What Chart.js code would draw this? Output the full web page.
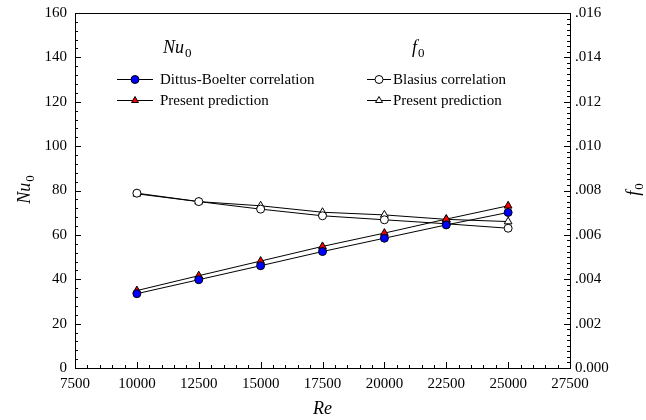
<!DOCTYPE html>
<html>
<head>
<meta charset="utf-8">
<script src="https://cdn.jsdelivr.net/npm/chart.js@4.4.1/dist/chart.umd.min.js"></script>
<style>
  html, body { margin: 0; padding: 0; background: #fff; }
  #chart { display: block; }
</style>
</head>
<body>
<canvas id="chart" width="646" height="420"></canvas>
<script>
// Nu0 e f0 em função de Re
const RE = [10000, 12500, 15000, 17500, 20000, 22500, 25000];
const NU_DITTUS = [33.5, 39.8, 46.1, 52.5, 58.5, 64.5, 70.1];
const NU_PRESENT = [34.9, 41.6, 48.2, 54.8, 60.8, 67.1, 73.1];
const F_BLASIUS = [0.00788, 0.0075, 0.00716, 0.00686, 0.00668, 0.0065, 0.0063];
const F_PRESENT = [0.00785, 0.0075, 0.00731, 0.00702, 0.0069, 0.0067, 0.0066];

const X_RANGE = [7500, 27500];
const NU_RANGE = [0, 160];
const F_RANGE = [0, 0.016];

const FONT = "'Liberation Serif', 'Times New Roman', serif";

const pts = (ys) => RE.map((x, i) => ({ x, y: ys[i] }));

// ---- eixos: ticks para dentro, linha superior, títulos e legenda ----
const framePlugin = {
  id: "frame",
  afterDraw(chart) {
    const ctx = chart.ctx;
    const a = chart.chartArea;
    const sx = chart.scales.x, sy = chart.scales.y, sf = chart.scales.y2;
    ctx.save();
    ctx.strokeStyle = "#000";
    ctx.lineWidth = 1;

    // linha superior
    ctx.beginPath();
    ctx.moveTo(a.left, a.top + 0.5);
    ctx.lineTo(a.right, a.top + 0.5);
    ctx.stroke();

    ctx.beginPath();
    // eixo x: menor a cada 500, maior a cada 2500
    for (let i = 0; i <= 40; i++) {
      const px = Math.round(sx.getPixelForValue(X_RANGE[0] + i * 500)) + 0.5;
      const len = i % 5 === 0 ? 6 : 3;
      ctx.moveTo(px, a.bottom);
      ctx.lineTo(px, a.bottom - len);
    }
    // eixo Nu: menor a cada 4
    for (let i = 0; i <= 40; i++) {
      const py = Math.round(sy.getPixelForValue(i * 4)) + 0.5;
      const len = i % 5 === 0 ? 6 : 3;
      ctx.moveTo(a.left, py);
      ctx.lineTo(a.left + len, py);
    }
    // eixo f: menor a cada 0.00025
    for (let i = 0; i <= 64; i++) {
      const py = Math.round(sf.getPixelForValue(i * 0.00025)) + 0.5;
      const len = i % 8 === 0 ? 6 : 3;
      ctx.moveTo(a.right, py);
      ctx.lineTo(a.right - len, py);
    }
    ctx.stroke();

    ctx.fillStyle = "#000";
    // título do eixo x
    ctx.font = "italic 18px " + FONT;
    ctx.textAlign = "center";
    ctx.textBaseline = "alphabetic";
    ctx.fillText("Re", (a.left + a.right) / 2, 414);

    // títulos com subscrito
    const sub = (main, x, y, rotate) => {
      ctx.save();
      ctx.translate(x, y);
      if (rotate) ctx.rotate(-Math.PI / 2);
      ctx.font = "italic 18px " + FONT;
      const w1 = ctx.measureText(main).width;
      ctx.font = "13px " + FONT;
      const w2 = ctx.measureText("0").width;
      const x0 = rotate ? -(w1 + w2) / 2 : 0;
      ctx.textAlign = "left";
      ctx.font = "italic 18px " + FONT;
      ctx.fillText(main, x0, rotate ? 6 : 0);
      ctx.font = "13px " + FONT;
      ctx.fillText("0", x0 + w1 + 1, rotate ? 10 : 4);
      ctx.restore();
    };
    sub("Nu", 24, 190, true);
    sub("f", 633, 190, true);

    // legenda
    const ds = chart.data.datasets;
    const entry = (d, x1, x2, y, tx) => {
      ctx.strokeStyle = "#000";
      ctx.lineWidth = 1;
      ctx.beginPath();
      ctx.moveTo(x1, y + 0.5);
      ctx.lineTo(x2, y + 0.5);
      ctx.stroke();
      ctx.fillStyle = d.pointBackgroundColor;
      ctx.strokeStyle = "#000";
      Chart.helpers.drawPoint(ctx, { pointStyle: d.pointStyle, radius: 4, borderWidth: 1, rotation: 0 }, (x1 + x2) / 2, y + 0.5);
      ctx.fillStyle = "#000";
      ctx.font = "15px " + FONT;
      ctx.textAlign = "left";
      ctx.textBaseline = "middle";
      ctx.fillText(d.label, tx, y + 1);
    };
    ctx.textBaseline = "alphabetic";
    sub("Nu", 163, 53, false);
    sub("f", 412, 53, false);
    entry(ds[0], 117, 153, 79, 160);
    entry(ds[1], 117, 153, 100, 160);
    entry(ds[2], 367, 391, 79, 393);
    entry(ds[3], 367, 391, 100, 393);
    ctx.restore();
  },
};

const common = {
  showLine: true,
  borderColor: "#000",
  borderWidth: 1,
  pointRadius: 4,
  pointBorderColor: "#000",
  pointBorderWidth: 1,
  tension: 0,
};

const tickFont = { family: FONT, size: 15 };
const noPad = (s) => { s.paddingTop = 0; s.paddingBottom = 0; };

new Chart(document.getElementById("chart"), {
  type: "scatter",
  data: {
    datasets: [
      { ...common, label: "Dittus-Boelter correlation", data: pts(NU_DITTUS), yAxisID: "y", pointStyle: "circle", pointBackgroundColor: "#0000ff" },
      { ...common, label: "Present prediction", data: pts(NU_PRESENT), yAxisID: "y", pointStyle: "triangle", pointBackgroundColor: "#ff0000", pointRadius: 4.5 },
      { ...common, label: "Blasius correlation", data: pts(F_BLASIUS), yAxisID: "y2", pointStyle: "circle", pointBackgroundColor: "#ffffff" },
      { ...common, label: "Present prediction", data: pts(F_PRESENT), yAxisID: "y2", pointStyle: "triangle", pointBackgroundColor: "#ffffff", pointRadius: 4.5 },
    ],
  },
  options: {
    responsive: false,
    animation: false,
    layout: { padding: { top: 13, left: 0, right: 0, bottom: 0 } },
    plugins: { legend: { display: false }, tooltip: { enabled: false } },
    scales: {
      x: {
        type: "linear",
        min: X_RANGE[0], max: X_RANGE[1],
        grid: { display: false, drawTicks: false },
        border: { display: true, color: "#000", width: 1 },
        ticks: { stepSize: 2500, color: "#000", padding: 7, maxRotation: 0, autoSkip: false, font: tickFont, callback: (v) => String(v) },
        afterFit: (s) => { s.height = 52; s.paddingLeft = 0; s.paddingRight = 0; },
      },
      y: {
        position: "left",
        min: NU_RANGE[0], max: NU_RANGE[1],
        grid: { display: false, drawTicks: false },
        border: { display: true, color: "#000", width: 1 },
        ticks: { stepSize: 20, color: "#000", padding: 8, font: tickFont },
        afterFit: (s) => { s.width = 75; noPad(s); },
      },
      y2: {
        position: "right",
        min: F_RANGE[0], max: F_RANGE[1],
        grid: { display: false, drawTicks: false },
        border: { display: true, color: "#000", width: 1 },
        ticks: {
          stepSize: 0.002, color: "#000", padding: 5, font: tickFont,
          callback: (v) => (Math.abs(v) < 1e-9 ? "0.000" : v.toFixed(3).replace(/^0/, "")),
        },
        afterFit: (s) => { s.width = 76; noPad(s); },
      },
    },
  },
  plugins: [framePlugin],
});
</script>
</body>
</html>
